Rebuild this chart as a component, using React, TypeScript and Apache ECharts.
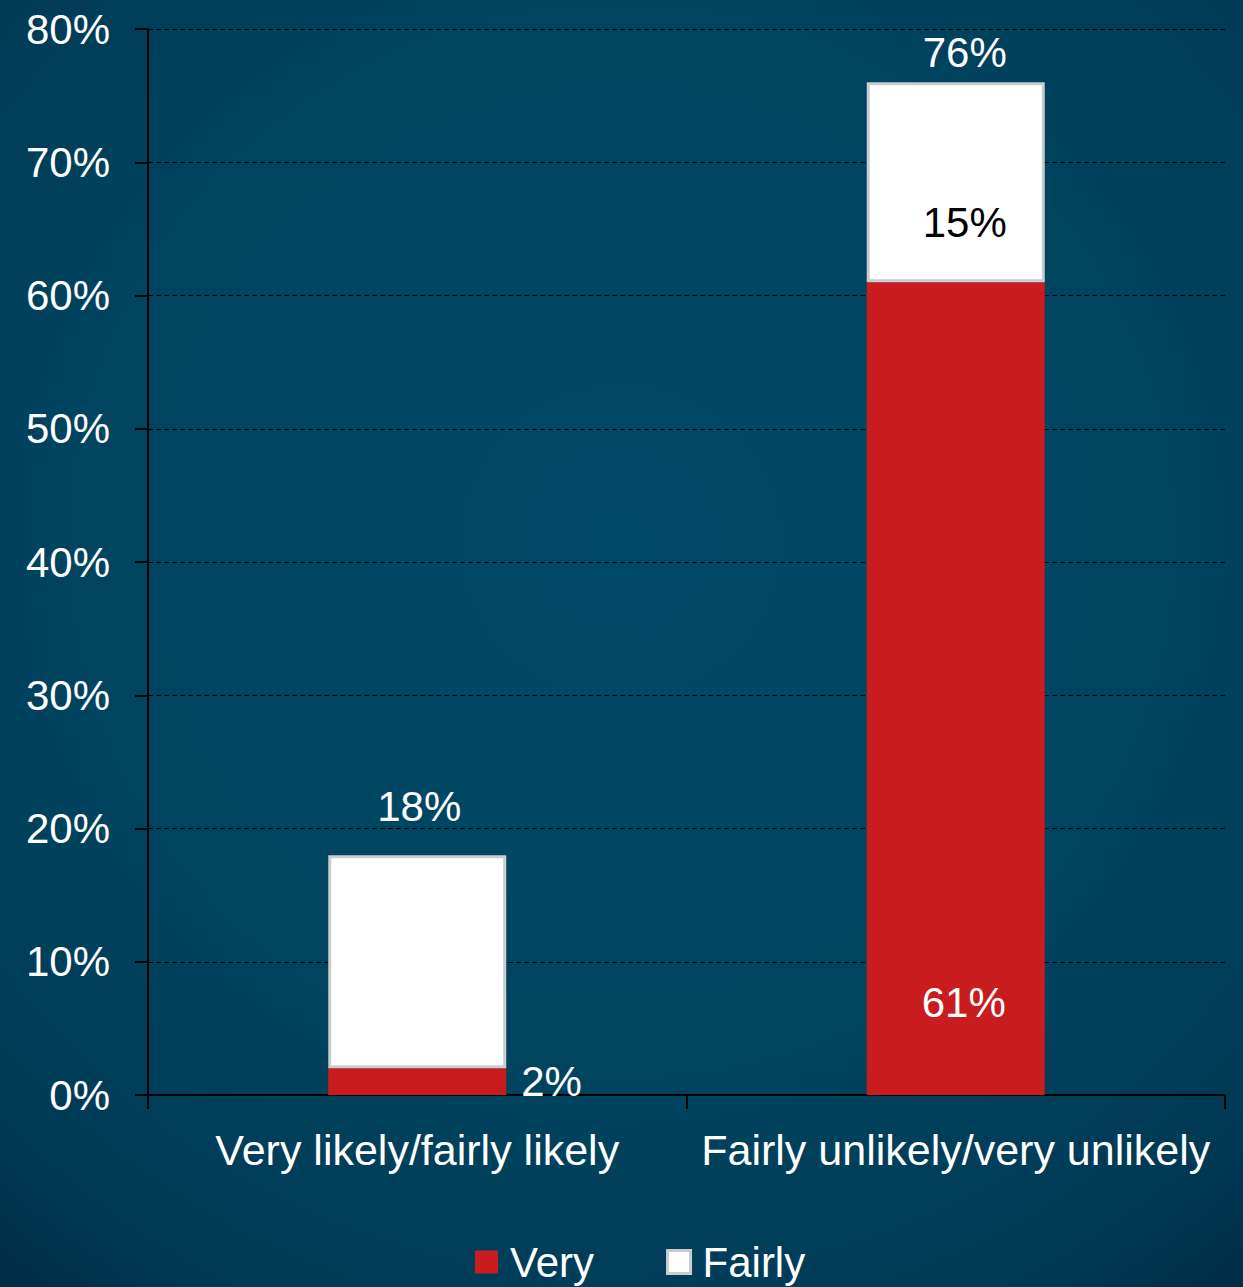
import React, { useEffect, useRef } from "react";
import * as echarts from "echarts";

const categories = ["Very likely/fairly likely", "Fairly unlikely/very unlikely"];
const veryValues = [2, 61];
const fairlyValues = [16, 15];
const yTicks = [0, 10, 20, 30, 40, 50, 60, 70, 80];

export default function App() {
  const ref = useRef<HTMLDivElement>(null);
  useEffect(() => {
    document.body.style.margin = "0";
    const chart = echarts.init(ref.current!, null, { renderer: "svg" });
    const totals = veryValues.map((v, i) => v + fairlyValues[i]);
    const font = "'Liberation Sans', Arial, sans-serif";
    chart.setOption({
      animation: false,
      backgroundColor: "transparent",
      textStyle: { fontFamily: font },
      grid: { left: 148, right: 18, top: 29, bottom: 192, containLabel: false },
      legend: {
        data: [
          { name: "Very", itemStyle: { color: "#c81c1e", borderWidth: 0 } },
          { name: "Fairly", itemStyle: { color: "#ffffff", borderColor: "#c9cdd1", borderWidth: 3 } },
        ],
        top: 1236,
        left: 470,
        itemWidth: 23,
        itemHeight: 23,
        itemGap: 72,
        icon: "rect",
        textStyle: { color: "#ffffff", fontSize: 42, fontFamily: font, padding: [4, 0, 0, 7] },
      },
      xAxis: {
        type: "category",
        data: categories,
        axisLine: { lineStyle: { color: "#000000", width: 2 } },
        axisTick: { show: true, length: 14, lineStyle: { color: "#000000", width: 2 } },
        axisLabel: { color: "#ffffff", fontSize: 43, margin: 33, fontFamily: font, interval: 0 },
      },
      yAxis: {
        type: "value",
        min: yTicks[0],
        max: yTicks[yTicks.length - 1],
        interval: 10,
        axisLine: { show: true, lineStyle: { color: "#000000", width: 2 } },
        axisTick: { show: true, length: 13, lineStyle: { color: "#000000", width: 2 } },
        axisLabel: {
          color: "#ffffff",
          fontSize: 42,
          margin: 38,
          fontFamily: font,
          formatter: (v: number) => v + "%",
        },
        splitLine: { show: true, lineStyle: { color: "#000000", type: [5, 3], width: 1 } },
      },
      series: [
        {
          name: "Very",
          type: "bar",
          stack: "s",
          barWidth: 178,
          itemStyle: { color: "#c81c1e" },
          data: veryValues.map((v, i) => ({
            value: v,
            label:
              i === 0
                ? { show: true, position: "right", distance: 15, color: "#ffffff", fontSize: 42, formatter: v + "%" }
                : { show: true, position: "insideBottom", distance: 72, offset: [8, 0], color: "#ffffff", fontSize: 42, formatter: v + "%" },
          })),
        },
        {
          name: "Fairly",
          type: "bar",
          stack: "s",
          barWidth: 178,
          itemStyle: { color: "#ffffff", borderColor: "#c9cdd1", borderWidth: 3 },
          data: fairlyValues.map((v, i) => ({
            value: v,
            label:
              i === 0
                ? { show: false }
                : { show: true, position: "inside", offset: [9, 40], color: "#000000", fontSize: 42, formatter: v + "%" },
          })),
        },
        {
          name: "Total",
          type: "bar",
          stack: "s",
          barWidth: 178,
          itemStyle: { color: "transparent" },
          data: totals.map((t, i) => ({
            value: 0,
            label: {
              show: true,
              position: "top",
              distance: i === 0 ? 28 : 9,
              offset: [i === 0 ? 2 : 9, 0],
              color: "#ffffff",
              fontSize: 42,
              formatter: t + "%",
            },
          })),
        },
      ],
    });
    return () => chart.dispose();
  }, []);
  return (
    <div
      style={{
        position: "absolute",
        left: 0,
        top: 0,
        width: 1243,
        height: 1287,
        background:
          "radial-gradient(ellipse 80% 75% at 50% 42%, #004a69 0%, #00445f 55%, #003a55 85%, #002c45 100%)",
      }}
    >
      <div ref={ref} style={{ width: 1243, height: 1287 }} />
    </div>
  );
}
